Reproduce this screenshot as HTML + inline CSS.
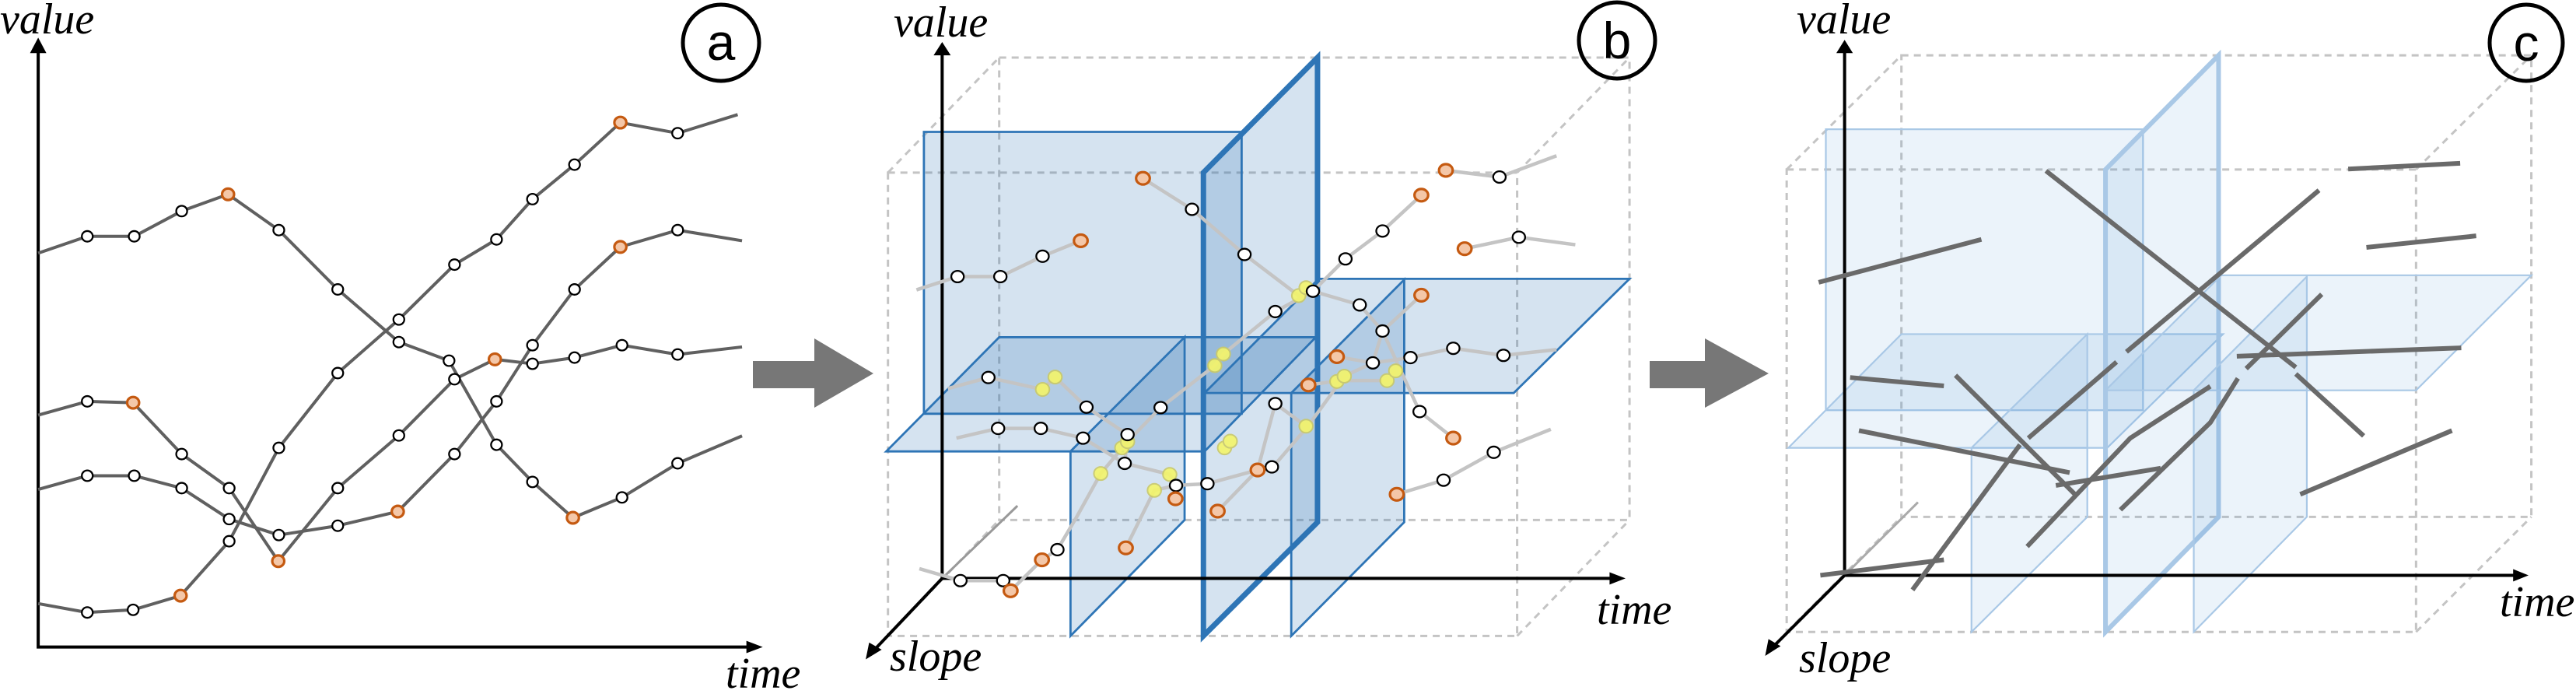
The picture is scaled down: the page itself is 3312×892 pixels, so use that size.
<!DOCTYPE html>
<html><head><meta charset="utf-8"><style>
html,body{margin:0;padding:0;background:#fff;}
svg{display:block;}
.t{font-family:"Liberation Serif",serif;font-style:italic;font-size:56px;fill:#000;}
.c{font-family:"Liberation Sans",sans-serif;font-size:66px;fill:#000;text-anchor:middle;}
path,line,polyline,polygon,ellipse,rect{vector-effect:non-scaling-stroke;}
.ln{fill:none;stroke:#606060;stroke-width:4;stroke-linejoin:round;}
.gl{fill:none;stroke:#c4c4c4;stroke-width:4.5;stroke-linejoin:round;}
.w{fill:#fff;stroke:#000;stroke-width:2.3;}
.o{fill:#f4c7a8;stroke:#c55a11;stroke-width:3.2;}
.y{fill:#f4f56a;stroke:#c9c96a;stroke-width:2;opacity:.9;}
.ax{stroke:#000;stroke-width:4;fill:none;}
.cube{fill:none;stroke:#c4c4c4;stroke-width:3;stroke-dasharray:9 7;}
.pb{fill:rgba(46,117,182,0.2);stroke:#2e75b6;stroke-width:2.8;}
.pbt{fill:rgba(46,117,182,0.2);stroke:#2e75b6;stroke-width:7;}
.pc{fill:rgba(91,155,213,0.12);stroke:#a9c8e6;stroke-width:2.2;}
.pct{fill:rgba(91,155,213,0.12);stroke:#a9c8e6;stroke-width:6;}
.sg{fill:none;stroke:#6a6a6a;stroke-width:6;stroke-linecap:butt;}
</style></head><body>
<svg width="3312" height="892" viewBox="0 0 3312 892" xmlns="http://www.w3.org/2000/svg">

<!-- Panel a -->
<g transform="translate(0,0) scale(0.7015,0.5688)">
<polyline class="ax" points="70,110 70,1462 1380,1462"/>
<polygon points="70,85 55,120 85,120" fill="#000"/>
<polygon points="1398,1462 1368,1448 1368,1476" fill="#000"/>
<polyline class="ln" points="70,572 160,534 246,534 333,477 418,439 511,520 619,654 731,773 823,815 910,1005 976,1089 1050,1170 1140,1124 1242,1047 1360,985"/>
<polyline class="ln" points="70,938 160,907 244,910 333,1026 420,1103 510,1268 619,1103 731,984 833,857 907,812 976,822 1053,808 1140,780 1242,801 1360,784"/>
<polyline class="ln" points="70,1106 160,1075 246,1075 333,1103 420,1173 511,1209 619,1188 729,1156 833,1026 910,907 976,780 1053,654 1137,558 1242,520 1360,544"/>
<polyline class="ln" points="70,1364 160,1384 244,1378 331,1346 420,1223 511,1012 619,843 731,722 833,598 910,541 976,450 1053,372 1137,277 1242,301 1352,259"/>
<g class="w">
<ellipse cx="160" cy="534" rx="10" ry="12"/><ellipse cx="246" cy="534" rx="10" ry="12"/><ellipse cx="333" cy="477" rx="10" ry="12"/><ellipse cx="511" cy="520" rx="10" ry="12"/><ellipse cx="619" cy="654" rx="10" ry="12"/><ellipse cx="731" cy="773" rx="10" ry="12"/><ellipse cx="823" cy="815" rx="10" ry="12"/><ellipse cx="910" cy="1005" rx="10" ry="12"/><ellipse cx="976" cy="1089" rx="10" ry="12"/><ellipse cx="1140" cy="1124" rx="10" ry="12"/><ellipse cx="1242" cy="1047" rx="10" ry="12"/>
<ellipse cx="160" cy="907" rx="10" ry="12"/><ellipse cx="333" cy="1026" rx="10" ry="12"/><ellipse cx="420" cy="1103" rx="10" ry="12"/><ellipse cx="619" cy="1103" rx="10" ry="12"/><ellipse cx="731" cy="984" rx="10" ry="12"/><ellipse cx="833" cy="857" rx="10" ry="12"/><ellipse cx="976" cy="822" rx="10" ry="12"/><ellipse cx="1053" cy="808" rx="10" ry="12"/><ellipse cx="1140" cy="780" rx="10" ry="12"/><ellipse cx="1242" cy="801" rx="10" ry="12"/>
<ellipse cx="160" cy="1075" rx="10" ry="12"/><ellipse cx="246" cy="1075" rx="10" ry="12"/><ellipse cx="333" cy="1103" rx="10" ry="12"/><ellipse cx="420" cy="1173" rx="10" ry="12"/><ellipse cx="511" cy="1209" rx="10" ry="12"/><ellipse cx="619" cy="1188" rx="10" ry="12"/><ellipse cx="833" cy="1026" rx="10" ry="12"/><ellipse cx="910" cy="907" rx="10" ry="12"/><ellipse cx="976" cy="780" rx="10" ry="12"/><ellipse cx="1053" cy="654" rx="10" ry="12"/><ellipse cx="1242" cy="520" rx="10" ry="12"/>
<ellipse cx="160" cy="1384" rx="10" ry="12"/><ellipse cx="244" cy="1378" rx="10" ry="12"/><ellipse cx="420" cy="1223" rx="10" ry="12"/><ellipse cx="511" cy="1012" rx="10" ry="12"/><ellipse cx="619" cy="843" rx="10" ry="12"/><ellipse cx="731" cy="722" rx="10" ry="12"/><ellipse cx="833" cy="598" rx="10" ry="12"/><ellipse cx="910" cy="541" rx="10" ry="12"/><ellipse cx="976" cy="450" rx="10" ry="12"/><ellipse cx="1053" cy="372" rx="10" ry="12"/><ellipse cx="1242" cy="301" rx="10" ry="12"/>
</g>
<g class="o">
<ellipse cx="418" cy="439" rx="11" ry="13"/><ellipse cx="1050" cy="1170" rx="11" ry="13"/><ellipse cx="244" cy="910" rx="11" ry="13"/><ellipse cx="510" cy="1268" rx="11" ry="13"/><ellipse cx="907" cy="812" rx="11" ry="13"/><ellipse cx="729" cy="1156" rx="11" ry="13"/><ellipse cx="1137" cy="558" rx="11" ry="13"/><ellipse cx="331" cy="1346" rx="11" ry="13"/><ellipse cx="1137" cy="277" rx="11" ry="13"/>
</g>
</g>
<text class="t" x="0" y="43">value</text>
<text class="t" x="933" y="884">time</text>
<ellipse cx="927" cy="55" rx="49" ry="49" fill="none" stroke="#000" stroke-width="5"/>
<text class="c" x="927" y="77">a</text>

<!-- arrows -->
<polygon points="968,464 1047,464 1047,435 1123,480 1047,524 1047,499 968,499" fill="#777"/>
<polygon points="2121,464 2192,464 2192,435 2274,480 2192,524 2192,499 2121,499" fill="#777"/>

<!-- Panel b -->
<g transform="translate(1050,0) scale(0.7334,0.5688)">
<g class="cube">
<rect x="320" y="130" width="1105" height="1045"/>
<rect x="125" y="390" width="1103" height="1047"/>
<line x1="125" y1="390" x2="320" y2="130"/><line x1="1228" y1="390" x2="1425" y2="130"/><line x1="1228" y1="1437" x2="1425" y2="1175"/><line x1="125" y1="1437" x2="320" y2="1175"/>
</g>
<rect class="pb" x="188" y="298" width="557" height="637"/>
<polygon class="pb" points="320,762 875,762 680,1020 122,1020"/>
<polygon class="pb" points="445,1020 645,762 645,1175 445,1437"/>
<polygon class="pbt" points="678,390 878,130 878,1180 678,1437"/>
<polygon class="pb" points="880,630 1425,630 1222,888 680,888"/>
<polygon class="pb" points="832,888 1030,632 1030,1180 832,1437"/>
<line x1="352" y1="1143" x2="220" y2="1307" stroke="#999" stroke-width="3"/>
<polyline class="ax" points="220,120 220,1307 1395,1307"/>
<line class="ax" x1="220" y1="1307" x2="100" y2="1470"/>
<polygon points="220,95 205,125 235,125" fill="#000"/>
<polygon points="1418,1307 1390,1293 1390,1321" fill="#000"/>
<polygon points="86,1490 92,1452 114,1468" fill="#000"/>
<polyline class="gl" points="175,655 247,625 322,625 396,579 463,544"/>
<polyline class="gl" points="572,403 658,473 750,575 845,668 870,658 952,689 992,748 1057,930 1116,990"/>
<polyline class="gl" points="1103,385 1197,400 1297,352"/>
<polyline class="gl" points="1060,441 992,522 927,585 870,658 804,704 713,800 698,826 603,921 545,998 498,1070 455,1170 422,1242 395,1265 340,1335"/>
<polyline class="gl" points="327,1312 252,1312 180,1285"/>
<polyline class="gl" points="1136,562 1231,536 1330,553"/>
<polyline class="gl" points="1060,667 992,748 975,820 925,850 860,965 800,1055 773,1062 685,1093 630,1097 592,1108 542,1238"/>
<polyline class="gl" points="230,878 301,853 396,880 418,852 473,920 545,982 540,1047 619,1072 630,1097 629,1127"/>
<polyline class="gl" points="245,990 318,968 393,968 467,990 540,1047"/>
<polyline class="gl" points="1017,1117 1099,1085 1187,1022 1287,970"/>
<polyline class="gl" points="912,806 975,820 1041,808 1116,787 1204,803 1297,790"/>
<polyline class="gl" points="862,870 917,860 1000,860 1015,838"/>
<polyline class="gl" points="703,1155 773,1062 804,912 858,963"/>
<polyline class="gl" points="340,1335 327,1312"/>
<g class="y">
<ellipse cx="396" cy="880" rx="12" ry="15"/><ellipse cx="418" cy="852" rx="12" ry="15"/><ellipse cx="535" cy="1012" rx="12" ry="15"/><ellipse cx="545" cy="998" rx="12" ry="15"/><ellipse cx="498" cy="1070" rx="12" ry="15"/><ellipse cx="592" cy="1108" rx="12" ry="15"/><ellipse cx="619" cy="1072" rx="12" ry="15"/><ellipse cx="698" cy="826" rx="12" ry="15"/><ellipse cx="713" cy="800" rx="12" ry="15"/><ellipse cx="715" cy="1012" rx="12" ry="15"/><ellipse cx="725" cy="997" rx="12" ry="15"/><ellipse cx="858" cy="963" rx="12" ry="15"/><ellipse cx="912" cy="862" rx="12" ry="15"/><ellipse cx="925" cy="850" rx="12" ry="15"/><ellipse cx="1000" cy="860" rx="12" ry="15"/><ellipse cx="1015" cy="838" rx="12" ry="15"/><ellipse cx="845" cy="668" rx="12" ry="15"/><ellipse cx="858" cy="650" rx="12" ry="15"/>
</g>
<g class="w">
<ellipse cx="247" cy="625" rx="11" ry="13"/><ellipse cx="322" cy="625" rx="11" ry="13"/><ellipse cx="396" cy="579" rx="11" ry="13"/><ellipse cx="658" cy="473" rx="11" ry="13"/><ellipse cx="750" cy="575" rx="11" ry="13"/><ellipse cx="870" cy="658" rx="11" ry="13"/><ellipse cx="804" cy="704" rx="11" ry="13"/><ellipse cx="952" cy="689" rx="11" ry="13"/><ellipse cx="992" cy="748" rx="11" ry="13"/><ellipse cx="975" cy="820" rx="11" ry="13"/><ellipse cx="1041" cy="808" rx="11" ry="13"/><ellipse cx="1116" cy="787" rx="11" ry="13"/><ellipse cx="1204" cy="803" rx="11" ry="13"/><ellipse cx="1197" cy="400" rx="11" ry="13"/><ellipse cx="1231" cy="536" rx="11" ry="13"/><ellipse cx="992" cy="522" rx="11" ry="13"/><ellipse cx="927" cy="585" rx="11" ry="13"/><ellipse cx="301" cy="853" rx="11" ry="13"/><ellipse cx="473" cy="920" rx="11" ry="13"/><ellipse cx="603" cy="921" rx="11" ry="13"/><ellipse cx="318" cy="968" rx="11" ry="13"/><ellipse cx="393" cy="968" rx="11" ry="13"/><ellipse cx="467" cy="990" rx="11" ry="13"/><ellipse cx="545" cy="982" rx="11" ry="13"/><ellipse cx="540" cy="1047" rx="11" ry="13"/><ellipse cx="630" cy="1097" rx="11" ry="13"/><ellipse cx="685" cy="1093" rx="11" ry="13"/><ellipse cx="804" cy="912" rx="11" ry="13"/><ellipse cx="798" cy="1055" rx="11" ry="13"/><ellipse cx="1057" cy="930" rx="11" ry="13"/><ellipse cx="1099" cy="1085" rx="11" ry="13"/><ellipse cx="1187" cy="1022" rx="11" ry="13"/><ellipse cx="422" cy="1242" rx="11" ry="13"/><ellipse cx="252" cy="1312" rx="11" ry="13"/><ellipse cx="327" cy="1312" rx="11" ry="13"/>
</g>
<g class="o">
<ellipse cx="463" cy="544" rx="12" ry="14"/><ellipse cx="572" cy="403" rx="12" ry="14"/><ellipse cx="1103" cy="385" rx="12" ry="14"/><ellipse cx="1060" cy="441" rx="12" ry="14"/><ellipse cx="1136" cy="562" rx="12" ry="14"/><ellipse cx="1060" cy="667" rx="12" ry="14"/><ellipse cx="1116" cy="990" rx="12" ry="14"/><ellipse cx="1017" cy="1117" rx="12" ry="14"/><ellipse cx="703" cy="1155" rx="12" ry="14"/><ellipse cx="542" cy="1238" rx="12" ry="14"/><ellipse cx="395" cy="1265" rx="12" ry="14"/><ellipse cx="340" cy="1335" rx="12" ry="14"/><ellipse cx="773" cy="1062" rx="12" ry="14"/><ellipse cx="629" cy="1127" rx="12" ry="14"/><ellipse cx="862" cy="870" rx="12" ry="14"/><ellipse cx="912" cy="806" rx="12" ry="14"/>
</g>
</g>
<text class="t" x="1149" y="47">value</text>
<text class="t" x="2053" y="802">time</text>
<text class="t" x="1144" y="862">slope</text>
<ellipse cx="2079" cy="52" rx="49" ry="49" fill="none" stroke="#000" stroke-width="5"/>
<text class="c" x="2079" y="75">b</text>

<!-- Panel c -->
<g transform="translate(2200,0) scale(0.7092,0.5688)">
<g class="cube">
<rect x="345" y="125" width="1142" height="1043"/>
<rect x="137" y="383" width="1141" height="1045"/>
<line x1="137" y1="383" x2="345" y2="125"/><line x1="1278" y1="383" x2="1487" y2="125"/><line x1="1278" y1="1428" x2="1487" y2="1168"/><line x1="137" y1="1428" x2="345" y2="1168"/>
</g>
<rect class="pc" x="208" y="292" width="575" height="635"/>
<polygon class="pc" points="345,755 928,755 718,1012 140,1012"/>
<polygon class="pc" points="472,1012 682,755 682,1168 472,1428"/>
<polygon class="pct" points="715,383 920,125 920,1168 715,1428"/>
<polygon class="pc" points="925,622 1487,622 1278,882 715,882"/>
<polygon class="pc" points="875,882 1080,625 1080,1168 875,1428"/>
<line x1="375" y1="1135" x2="242" y2="1300" stroke="#aaa" stroke-width="3"/>
<polyline class="ax" points="242,115 242,1300 1458,1300"/>
<line class="ax" x1="242" y1="1300" x2="112" y2="1462"/>
<polygon points="242,90 227,120 257,120" fill="#000"/>
<polygon points="1482,1300 1454,1286 1454,1314" fill="#000"/>
<polygon points="98,1482 104,1444 126,1460" fill="#000"/>
<g class="sg">
<line x1="195" y1="638" x2="490" y2="541"/>
<line x1="607" y1="386" x2="1060" y2="830"/>
<line x1="1060" y1="845" x2="1183" y2="985"/>
<line x1="1155" y1="382" x2="1358" y2="369"/>
<line x1="1188" y1="559" x2="1387" y2="533"/>
<line x1="753" y1="795" x2="1102" y2="430"/>
<line x1="252" y1="853" x2="422" y2="872"/>
<line x1="443" y1="848" x2="662" y2="1120"/>
<line x1="268" y1="973" x2="650" y2="1068"/>
<line x1="575" y1="990" x2="735" y2="818"/>
<line x1="970" y1="833" x2="1107" y2="665"/>
<line x1="953" y1="805" x2="1360" y2="786"/>
<line x1="625" y1="1097" x2="815" y2="1058"/>
<polyline points="573,1235 760,990 905,873"/>
<polyline points="742,1152 905,955 955,855"/>
<line x1="1068" y1="1117" x2="1343" y2="973"/>
<line x1="198" y1="1300" x2="422" y2="1265"/>
<line x1="365" y1="1333" x2="560" y2="1005"/>
</g>
</g>
<text class="t" x="2310" y="43">value</text>
<text class="t" x="3214" y="792">time</text>
<text class="t" x="2313" y="864">slope</text>
<ellipse cx="3248" cy="55" rx="47" ry="49" fill="none" stroke="#000" stroke-width="5"/>
<text class="c" x="3248" y="78">c</text>
</svg>
</body></html>
